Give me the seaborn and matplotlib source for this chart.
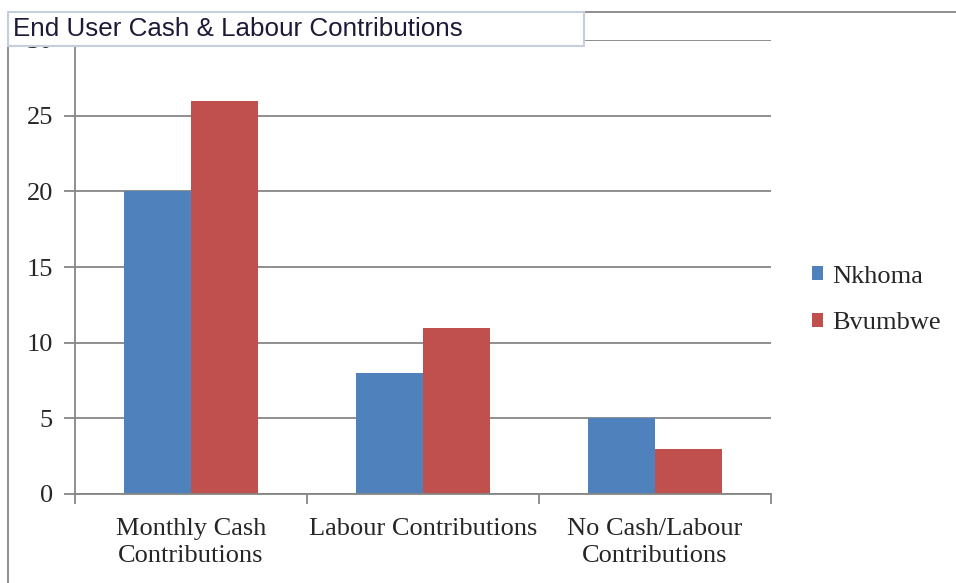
import matplotlib
matplotlib.use("Agg")
import matplotlib.pyplot as plt
from matplotlib.patches import Rectangle
from matplotlib.lines import Line2D
import seaborn as sns
import pandas as pd

categories = ["Monthly Cash\nContributions", "Labour Contributions", "No Cash/Labour\nContributions"]
nkhoma = [20, 8, 5]
bvumbwe = [26, 11, 3]
series_names = ["Nkhoma", "Bvumbwe"]
y_ticks = [0, 5, 10, 15, 20, 25, 30]

df = pd.DataFrame({
    "category": categories * 2,
    "value": nkhoma + bvumbwe,
    "site": [series_names[0]] * 3 + [series_names[1]] * 3,
})

sns.set_theme(style="white")
plt.rcParams["font.family"] = ["Liberation Serif", "DejaVu Serif"]

W, H = 956, 583
fig = plt.figure(figsize=(W / 100, H / 100), dpi=100)
ax = fig.add_axes([75 / W, 1 - 494 / H, (771 - 75) / W, (494 - 40) / H])

grid_c = "#868686"
sns.barplot(data=df, x="category", y="value", hue="site",
            palette=["#4F81BD", "#C0504D"], width=0.574, gap=0,
            saturation=1, ax=ax, errorbar=None, legend=True)
for p in ax.patches:
    p.set_linewidth(0)

ax.set_xlim(-0.5, 2.5)
ax.set_ylim(0, 30)
ax.set_yticks(y_ticks)
ax.set_yticklabels([str(v) for v in y_ticks], fontsize=19)
ax.yaxis.grid(True, color=grid_c, linewidth=1.3)
ax.set_axisbelow(True)
ax.set_xlabel("")
ax.set_ylabel("")

ax.set_xticks(range(3))
ax.set_xticklabels(categories, fontsize=19, linespacing=1.34)
ax.set_xticks([-0.5, 0.5, 1.5, 2.5], minor=True)
ax.tick_params(axis="x", which="major", length=0, pad=17)
ax.tick_params(axis="x", which="minor", length=7, width=1.3, color=grid_c, direction="out", bottom=True)
ax.tick_params(axis="y", which="major", length=8, width=1.3, color=grid_c, direction="out", left=True, pad=8)

for side in ["top", "right"]:
    ax.spines[side].set_visible(False)
for side in ["left", "bottom"]:
    ax.spines[side].set_color(grid_c)
    ax.spines[side].set_linewidth(1.3)

handles, labels = ax.get_legend_handles_labels()
ax.legend(handles, labels, loc="center left", bbox_to_anchor=(812 / W, 1 - 300 / H),
          bbox_transform=fig.transFigure, frameon=False, fontsize=19,
          borderpad=0, borderaxespad=0,
          handlelength=0.42, handleheight=0.42, handletextpad=0.34, labelspacing=0.93)

# chart area border pieces
fig.add_artist(Line2D([8 / W, 8 / W], [0, 1 - 46 / H], transform=fig.transFigure,
                      color=grid_c, linewidth=1.3))
fig.add_artist(Line2D([584 / W, 1], [1 - 11.5 / H, 1 - 11.5 / H], transform=fig.transFigure,
                      color=grid_c, linewidth=1.3))

# title box
fig.add_artist(Rectangle((8 / W, 1 - 46 / H), (584 - 8) / W, (46 - 12) / H,
                         transform=fig.transFigure, facecolor="white",
                         edgecolor="#c5cedd", linewidth=1.5, zorder=5))
fig.text(13 / W, 1 - 29.5 / H, "End User Cash & Labour Contributions",
         family=["Liberation Sans", "DejaVu Sans"], fontsize=18.7, color="#1f1838",
         va="center", ha="left", zorder=6)

fig.savefig("out.png", dpi=100, facecolor="white")
